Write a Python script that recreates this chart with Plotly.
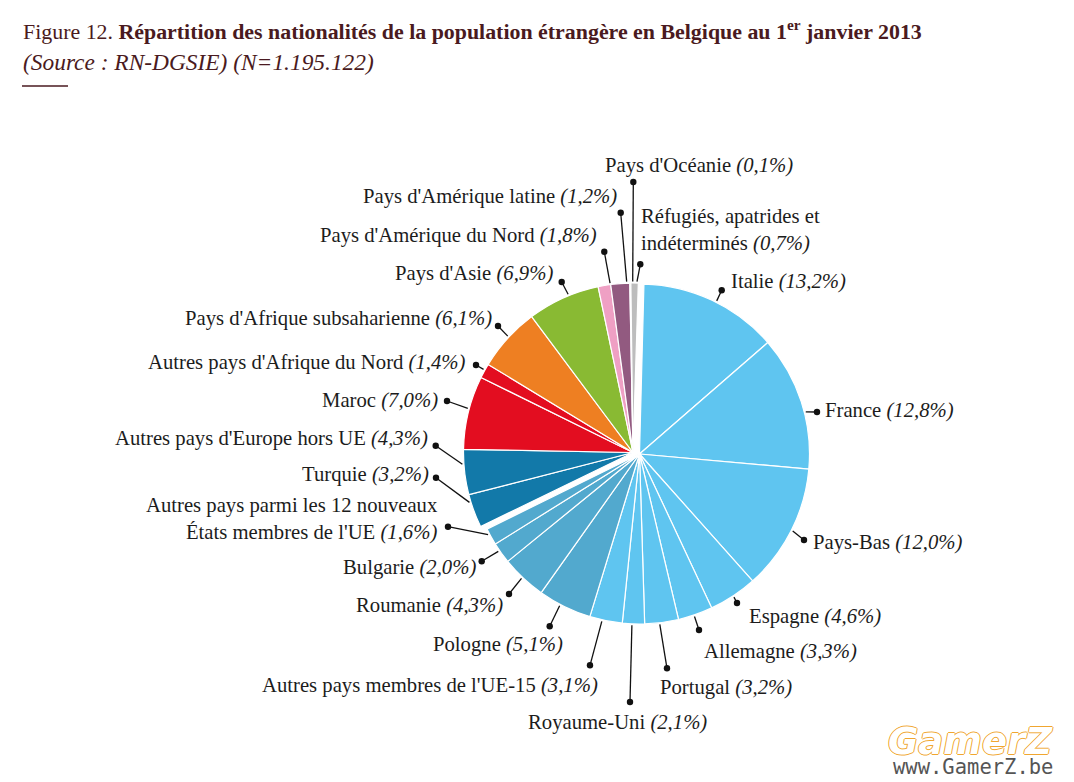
import math
import plotly.graph_objects as go

W, H = 1074, 782

# --- data -------------------------------------------------------------
eu_names = ["Italie", "France", "Pays-Bas", "Espagne", "Allemagne", "Portugal", "Royaume-Uni",
            "Autres pays membres de l'UE-15", "Pologne", "Roumanie", "Bulgarie",
            "Autres pays parmi les 12 nouveaux<br>États membres de l'UE"]
eu_values = [13.2, 12.8, 12.0, 4.6, 3.3, 3.2, 2.1, 3.1, 5.1, 4.3, 2.0, 1.6]
other_names = ["Turquie", "Autres pays d'Europe hors UE", "Maroc", "Autres pays d'Afrique du Nord",
               "Pays d'Afrique subsaharienne", "Pays d'Asie", "Pays d'Amérique du Nord",
               "Pays d'Amérique latine", "Pays d'Océanie", "Réfugiés, apatrides et<br>indéterminés"]
other_values = [3.2, 4.3, 7.0, 1.4, 6.1, 6.9, 1.8, 1.2, 0.1, 0.7]
# slices as the picture draws them: the narrower pink wedge comes before the wider purple one
other_slice_order = [0, 1, 2, 3, 4, 5, 7, 6, 8, 9]

# --- styling ----------------------------------------------------------
LIGHT, MID, DARK = "#5FC5F0", "#52A9CE", "#1279A9"
eu_colors = [LIGHT] * 8 + [MID] * 4
other_colors = [DARK, DARK, "#E30D20", "#E30D20", "#EE7F22", "#89BA33", "#EFA0C4", "#925A80", "#8C8C80", "#BDBDBD"]
EU_ROT = 1.5
OTHER_ROT = 1.8
EU_APEX = (639.5, 454)
EU_R = 170
OTHER_APEX = (633, 452.5)
OTHER_R = 169.5
FONT = "Liberation Serif"
TEXT = "#1c1c1c"
BROWN = "#4A1A20"
LABEL_SIZE = 20.7

# label anchors: (x, y, xanchor) in page pixels
eu_label_pos = [(731, 281, "left"), (825, 410, "left"), (813, 542, "left"), (749, 616, "left"),
                (704, 651, "left"), (660, 687, "left"), (528, 722, "left"), (598, 685, "right"),
                (563, 644, "right"), (503, 605, "right"), (476, 567, "right"), (438, 519, "right")]
other_label_pos = [(429, 474, "right"), (428, 438, "right"), (438, 400, "right"), (466, 362, "right"),
                   (492, 318, "right"), (553, 274, "right"), (597, 235, "right"), (617, 196, "right"),
                   (605, 165, "left"), (641, 230, "left")]
# leader end dots in page pixels, and angular nudge (deg) of each leader's foot from the wedge middle
eu_dots = [(721.7, 290.3), (817, 412), (804, 540), (737, 603), (699, 630), (667, 668.3), (630, 702),
           (590, 665.3), (549.7, 626.3), (509, 594), (481.7, 561.3), (448, 526.7)]
eu_nudge = [1.5, 3.7, 0, 0, 0.5, 0.7, 0.5, 1.3, 1.6, 0.4, 1, 1.1]
other_dots = [(436, 477.7), (435.7, 445.7), (447, 401), (476, 365), (498, 326), (561.7, 282), (604.3, 251.7),
              (620.7, 212.7), (633.3, 182), (640.3, 264.3)]
other_nudge = [3.2, 2.7, 1.3, 0.3, 0.6, 2, 2, 2.2, 0.8, 0.8]


def px(x):
    return x / W


def py(y):
    return 1 - y / H


def pie(values, colors, names, apex, radius, rot, reverse=False):
    rest = round(100 - sum(values), 1)
    if reverse:
        vals = [rest] + values
        cols = ["rgba(0,0,0,0)"] + colors
        labs = ["reste"] + names
        widths = [0] + [1.2] * len(values)
    else:
        vals = values + [rest]
        cols = colors + ["rgba(0,0,0,0)"]
        labs = names + ["reste"]
        widths = [1.2] * len(values) + [0]
    return go.Pie(values=vals, labels=labs, sort=False, direction="clockwise", rotation=rot,
                  textinfo="none", hoverinfo="skip", showlegend=False,
                  marker=dict(colors=cols, line=dict(color="white", width=widths)),
                  domain=dict(x=[px(apex[0] - radius), px(apex[0] + radius)],
                              y=[py(apex[1] + radius), py(apex[1] - radius)]))


other_slice_values = [other_values[i] for i in other_slice_order]
other_slice_names = [other_names[i] for i in other_slice_order]

fig = go.Figure([pie(eu_values, eu_colors, eu_names, EU_APEX, EU_R, EU_ROT),
                 pie(other_slice_values, other_colors, other_slice_names, OTHER_APEX, OTHER_R, OTHER_ROT, reverse=True)])

shapes, annotations = [], []


def add_group(names, values, slice_values, start, apex, radius, rot, dots, nudge, label_pos):
    cum = start
    for name, v, sv, dot, nd, (lx, ly, anchor) in zip(names, values, slice_values, dots, nudge, label_pos):
        mid = math.radians((cum + sv / 2) * 3.6 + rot + nd)
        cum += sv
        x0 = apex[0] + (radius + 1.5) * math.sin(mid)
        y0 = apex[1] - (radius + 1.5) * math.cos(mid)
        shapes.append(dict(type="line", xref="paper", yref="paper", x0=px(x0), y0=py(y0),
                           x1=px(dot[0]), y1=py(dot[1]), line=dict(color="#111111", width=1.3)))
        shapes.append(dict(type="circle", xref="paper", yref="paper", x0=px(dot[0] - 3.2), x1=px(dot[0] + 3.2),
                           y0=py(dot[1] + 3.2), y1=py(dot[1] - 3.2), fillcolor="#111111", line=dict(width=0)))
        pct = f"{v:.1f}".replace(".", ",")
        annotations.append(dict(xref="paper", yref="paper", x=px(lx), y=py(ly), xanchor=anchor, yanchor="middle",
                                align=anchor, showarrow=False, text=f"{name} <i>({pct}%)</i>",
                                font=dict(family=FONT, size=LABEL_SIZE, color=TEXT),
                                borderpad=0, borderwidth=0))


add_group(eu_names, eu_values, eu_values, 0, EU_APEX, EU_R, EU_ROT, eu_dots, eu_nudge, eu_label_pos)
add_group(other_names, other_values, other_slice_values, sum(eu_values), OTHER_APEX, OTHER_R, OTHER_ROT,
          other_dots, other_nudge, other_label_pos)

# title block
annotations.append(dict(xref="paper", yref="paper", x=px(22), y=py(30), xanchor="left", yanchor="middle",
                        showarrow=False, align="left", borderpad=0,
                        text="Figure 12. <b>Répartition des nationalités de la population étrangère en Belgique au 1<sup>er</sup> janvier 2013</b>",
                        font=dict(family=FONT, size=21.9, color=BROWN)))
annotations.append(dict(xref="paper", yref="paper", x=px(22), y=py(62), xanchor="left", yanchor="middle",
                        showarrow=False, align="left", borderpad=0, text="<i>(Source : RN-DGSIE) (N=1.195.122)</i>",
                        font=dict(family=FONT, size=23.4, color=BROWN)))
shapes.append(dict(type="line", xref="paper", yref="paper", x0=px(22), x1=px(68), y0=py(86), y1=py(86),
                   line=dict(color=BROWN, width=1.5)))

# watermark
ORANGE = "#F0A630"
outline = ",".join(f"{a}px {b}px 0 {ORANGE}" for a, b in [(1, 0), (-1, 0), (0, 1), (0, -1)])
annotations.append(dict(xref="paper", yref="paper", x=px(1055), y=py(741), xanchor="right", yanchor="middle",
                        showarrow=False, text="<b><i>GamerZ</i></b>",
                        font=dict(family="DejaVu Sans", size=37, color="white", shadow=outline)))
annotations.append(dict(xref="paper", yref="paper", x=px(1055), y=py(767), xanchor="right", yanchor="middle",
                        showarrow=False, text="www.GamerZ.be",
                        font=dict(family="DejaVu Sans Mono", size=20.5, color="#555555")))

fig.update_layout(width=W, height=H, margin=dict(l=0, r=0, t=0, b=0), paper_bgcolor="white",
                  shapes=shapes, annotations=annotations)
fig.write_html("out.html", config=dict(displayModeBar=False),
               post_script="document.body.style.margin='0';document.body.style.overflow='hidden';")
